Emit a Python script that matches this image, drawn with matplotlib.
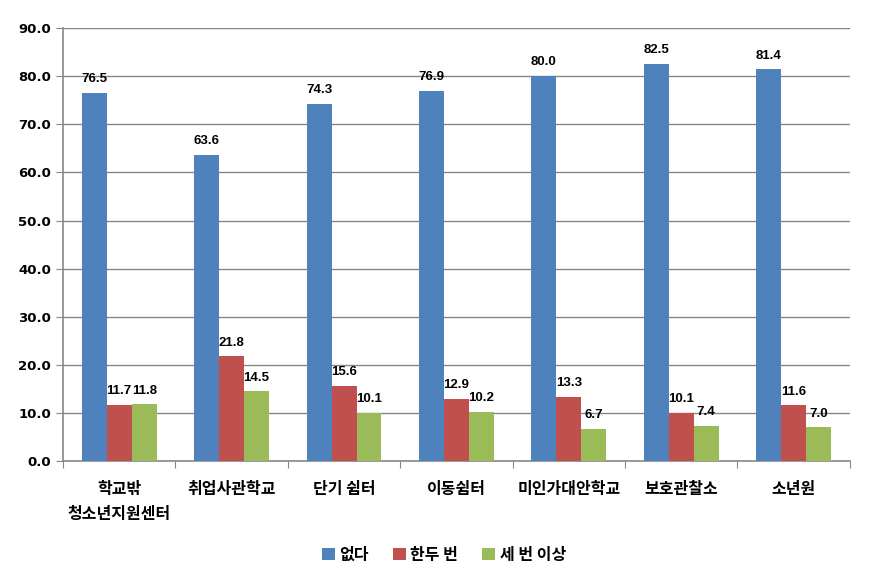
import numpy as np
import matplotlib
matplotlib.use('Agg')
import matplotlib.pyplot as plt

plt.rcParams['font.family'] = ['Noto Sans CJK KR', 'DejaVu Sans']
plt.rcParams['font.weight'] = 'bold'

categories = ['학교밖\n청소년지원센터', '취업사관학교', '단기 쉼터', '이동쉼터',
              '미인가대안학교', '보호관찰소', '소년원']
none_vals = [76.5, 63.6, 74.3, 76.9, 80.0, 82.5, 81.4]
once_twice = [11.7, 21.8, 15.6, 12.9, 13.3, 10.1, 11.6]
three_plus = [11.8, 14.5, 10.1, 10.2, 6.7, 7.4, 7.0]
series_names = ['없다', '한두 번', '세 번 이상']
colors = ['#4F81BD', '#C0504D', '#9BBB59']

fig = plt.figure(figsize=(8.88, 5.83), dpi=100)
ax = fig.add_axes([0.071, 0.209, 0.886, 0.743])

x = np.arange(len(categories))
w = 0.222
for i, (vals, name, col) in enumerate(zip([none_vals, once_twice, three_plus], series_names, colors)):
    pos = x + (i - 1) * w
    ax.bar(pos, vals, w, color=col, label=name, zorder=3)
    for p, v in zip(pos, vals):
        ax.text(p, v + 1.6, f'{v:.1f}', ha='center', va='bottom', fontsize=9.5,
                fontweight='bold', family='Liberation Sans', zorder=4)

ax.set_xlim(-0.5, len(categories) - 0.5)
ax.set_ylim(0, 90)
ax.set_yticks(np.arange(0, 91, 10))
ax.set_yticklabels([f'{t:.1f}' for t in np.arange(0, 91, 10)], fontsize=9.5,
                   fontweight='bold', family='DejaVu Sans')
ax.yaxis.grid(True, color='#878787', linewidth=1, zorder=0)
ax.set_axisbelow(True)

ax.set_xticks(np.arange(-0.5, len(categories), 1))
ax.set_xticklabels([])
ax.set_xticks(x, minor=True)
ax.set_xticklabels(categories, minor=True, fontsize=11.5, fontweight='bold', linespacing=1.7)
ax.tick_params(axis='x', which='minor', length=0, pad=14)
ax.tick_params(axis='x', which='major', length=5, color='#878787', direction='out')
ax.tick_params(axis='y', length=5, color='#878787', direction='out')

for s in ['top', 'right']:
    ax.spines[s].set_visible(False)
for s in ['left', 'bottom']:
    ax.spines[s].set_color('#878787')
    ax.spines[s].set_linewidth(1.2)

fig.legend(loc='lower center', bbox_to_anchor=(0.5, 0.01), ncol=3, frameon=False,
           handlelength=0.8, handleheight=0.8, handletextpad=0.3, columnspacing=1.5,
           prop={'size': 11.5, 'weight': 'bold', 'family': ['Noto Sans CJK KR', 'DejaVu Sans']})

fig.savefig('out.png', dpi=100)
